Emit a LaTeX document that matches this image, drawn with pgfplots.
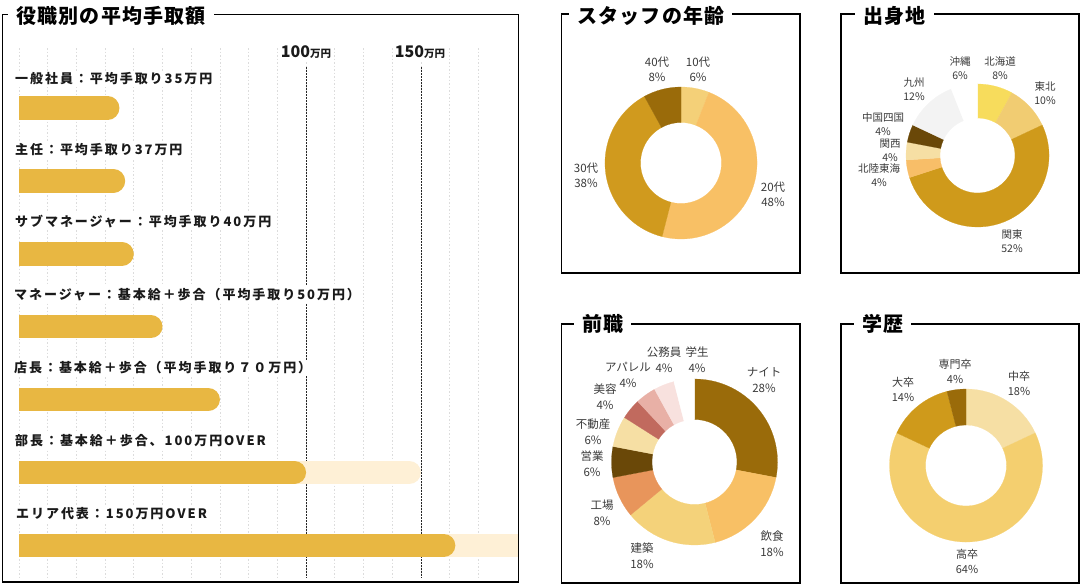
\documentclass[border=0pt]{standalone}
\usepackage{fontspec}
\setmainfont{Noto Sans CJK JP}
\newfontfamily\tfont{Noto Sans CJK JP}[LetterSpace=6]
\newfontfamily\bfont{Noto Sans CJK JP}[LetterSpace=15]
\newfontfamily\lfont{Noto Sans CJK JP}
\usepackage{pgfplots}
\usepackage{pgfplotstable}
\pgfplotsset{compat=1.18}

\definecolor{gold}{HTML}{E8B742}
\definecolor{cream}{HTML}{FEF0D6}
\definecolor{gridgray}{HTML}{DCDCDC}
\definecolor{labgray}{HTML}{3A3A3A}
\definecolor{txt}{HTML}{1A1A1A}
% age
\definecolor{ageA}{HTML}{F4D078}
\definecolor{ageB}{HTML}{F8C065}
\definecolor{ageC}{HTML}{D09A1E}
\definecolor{ageD}{HTML}{9A6B0A}
% origin
\definecolor{orA}{HTML}{F7DC5C}
\definecolor{orB}{HTML}{F1CC72}
\definecolor{orC}{HTML}{CF9A1B}
\definecolor{orD}{HTML}{F8BE68}
\definecolor{orE}{HTML}{F6DFA4}
\definecolor{orF}{HTML}{6A4808}
\definecolor{orG}{HTML}{F3F3F3}
\definecolor{orH}{HTML}{FFFFFF}
% job
\definecolor{jA}{HTML}{9A6B0A}
\definecolor{jB}{HTML}{F8C065}
\definecolor{jC}{HTML}{F4D27A}
\definecolor{jD}{HTML}{E8955B}
\definecolor{jE}{HTML}{6A4808}
\definecolor{jF}{HTML}{F6DFA4}
\definecolor{jG}{HTML}{C16A5E}
\definecolor{jH}{HTML}{E8B0A6}
\definecolor{jI}{HTML}{F8E1DE}
\definecolor{jJ}{HTML}{FFFFFF}
% education
\definecolor{eA}{HTML}{F6DFA4}
\definecolor{eB}{HTML}{F4CF6F}
\definecolor{eC}{HTML}{CF9A1B}
\definecolor{eD}{HTML}{9A6B0A}

\pgfplotstableread[col sep=comma]{
label,pct,col,lx,ly
10代,6,ageA,698,69.5
20代,48,ageB,773,194
30代,38,ageC,586,175.5
40代,8,ageD,657,69.5
}\tblAge

\pgfplotstableread[col sep=comma]{
label,pct,col,lx,ly
北海道,8,orA,1000,68.5
東北,10,orB,1045,93.5
関東,52,orC,1012,241
北陸東海,4,orD,879,175.5
関西,4,orE,890,150.5
中国四国,4,orF,883,124.5
九州,12,orG,914,89
沖縄,6,orH,960,68.5
}\tblOrigin

\pgfplotstableread[col sep=comma]{
label,pct,col,lx,ly
ナイト,28,jA,764,380.5
飲食,18,jB,772,543.5
建築,18,jC,642,556
工場,8,jD,602,512.5
営業,6,jE,592,463.5
不動産,6,jF,593,431.5
美容,4,jG,605,397
アパレル,4,jH,628,374.5
公務員,4,jI,664,360
学生,4,jJ,697,360
}\tblJob

\pgfplotstableread[col sep=comma]{
label,pct,col,lx,ly
中卒,18,eA,1019,383
高卒,64,eB,967,561
大卒,14,eC,903,389.5
専門卒,4,eD,955,371
}\tblEdu

% donut slices, drawn in axis coordinates from the table
\newcommand\donut[3]{%
 \pgfplotsextra{%
  \pgfplotstablegetrowsof{#1}%
  \pgfmathtruncatemacro\nr{\pgfplotsretval-1}%
  \gdef\cum{0}%
  \foreach \i in {0,...,\nr}{%
    \pgfplotstablegetelem{\i}{pct}\of{#1}\pgfmathsetmacro\p{\pgfplotsretval}%
    \pgfplotstablegetelem{\i}{col}\of{#1}\edef\c{\pgfplotsretval}%
    \pgfmathsetmacro\a{90-3.6*\cum}%
    \pgfmathsetmacro\b{90-3.6*(\cum+\p)}%
    \pgfmathsetmacro\newcum{\cum+\p}\xdef\cum{\newcum}%
    \fill[fill=\c, draw=\c, line width=0.2pt] ([shift={(\a:#2pt)}]axis cs:0,0) arc[start angle=\a, end angle=\b, radius=#2pt]
      -- ([shift={(\b:#3pt)}]axis cs:0,0) arc[start angle=\b, end angle=\a, radius=#3pt] -- cycle;
  }%
 }%
}
\newcommand\donutlabels[3]{%
  \pgfplotstablegetrowsof{#1}%
  \pgfmathtruncatemacro\nr{\pgfplotsretval-1}%
  \foreach \i in {0,...,\nr}{%
    \pgfplotstablegetelem{\i}{label}\of{#1}\let\lab\pgfplotsretval
    \pgfplotstablegetelem{\i}{pct}\of{#1}\let\pc\pgfplotsretval
    \pgfplotstablegetelem{\i}{lx}\of{#1}\let\lx\pgfplotsretval
    \pgfplotstablegetelem{\i}{ly}\of{#1}\let\ly\pgfplotsretval
    \node[align=center, text=labgray, inner sep=0pt, font=\lfont\fontsize{#2}{#3}\selectfont] at (\lx,{584-\ly}) {\lab\\\pc\%};
  }%
}

\begin{document}
\begin{tikzpicture}[x=1pt,y=1pt]

% ---------------- bar chart ----------------
\begin{axis}[at={(19pt,6pt)}, anchor=south west, scale only axis,
  width=499.5pt, height=530pt,
  xmin=0, xmax=174, ymin=-0.823, ymax=6.447, y dir=reverse,
  axis line style={draw=none}, tick style={draw=none},
  xtick={0,10,...,160}, xticklabel={\relax}, ytick=\empty,
  xmajorgrids, major grid style={gridgray, dash pattern=on 1.5pt off 2pt, line width=0.7pt}]
\draw[black!85, dash pattern=on 1.5pt off 1.5pt, line width=0.8pt] (axis cs:100,-0.56) -- (axis cs:100,6.447);
\draw[black!85, dash pattern=on 1.5pt off 1.5pt, line width=0.8pt] (axis cs:140,-0.56) -- (axis cs:140,6.447);
% light extensions
\addplot[cream, line width=23.5pt, line cap=round, xshift=-11.75pt] coordinates {(0,5) (140,5)};
\addplot[cream, line width=23.5pt] coordinates {(0,6) (180,6)};
% average take-home pay (10,000 yen)
\addplot[gold, line width=23.5pt, line cap=round, xshift=-11.75pt] coordinates {(0,0) (35,0)};
\addplot[gold, line width=23.5pt, line cap=round, xshift=-11.75pt] coordinates {(0,1) (37,1)};
\addplot[gold, line width=23.5pt, line cap=round, xshift=-11.75pt] coordinates {(0,2) (40,2)};
\addplot[gold, line width=23.5pt, line cap=round, xshift=-11.75pt] coordinates {(0,3) (50,3)};
\addplot[gold, line width=23.5pt, line cap=round, xshift=-11.75pt] coordinates {(0,4) (70,4)};
\addplot[gold, line width=23.5pt, line cap=round, xshift=-11.75pt] coordinates {(0,5) (100,5)};
\addplot[gold, line width=23.5pt, line cap=round, xshift=-11.75pt] coordinates {(0,6) (152,6)};
\end{axis}

% tick labels
\node[fill=white, inner sep=2pt, text=txt] at (306,{584-52}) {\bfseries\fontsize{16}{16}\selectfont 100\fontsize{10.5}{10.5}\selectfont 万円};
\node[fill=white, inner sep=2pt, text=txt] at (420,{584-52}) {\bfseries\fontsize{16}{16}\selectfont 150\fontsize{10.5}{10.5}\selectfont 万円};

% bar labels
\tikzset{blab/.style={anchor=west, fill=white, inner sep=2pt, text=txt, font=\bfont\bfseries\fontsize{13}{15}\selectfont}}
\node[blab] at (13,{584-79}) {一般社員：平均手取り35万円};
\node[blab] at (13,{584-149.5}) {主任：平均手取り37万円};
\node[blab] at (13,{584-221.5}) {サブマネージャー：平均手取り40万円};
\node[blab] at (12,{584-294.5}) {マネージャー：基本給＋歩合（平均手取り50万円）};
\node[blab] at (12,{584-368}) {店長：基本給＋歩合（平均手取り７０万円）};
\node[blab] at (13,{584-441}) {部長：基本給＋歩合、100万円OVER};
\node[blab] at (14,{584-513.5}) {エリア代表：150万円OVER};

% ---------------- donuts ----------------
\begin{axis}[at={(681pt,421pt)}, anchor=center, scale only axis, width=152pt, height=152pt,
  xmin=-76, xmax=76, ymin=-76, ymax=76, hide axis, clip=false]
\donut{\tblAge}{76}{40.5}
\end{axis}
\begin{axis}[at={(977.5pt,428.5pt)}, anchor=center, scale only axis, width=143pt, height=143pt,
  xmin=-71.5, xmax=71.5, ymin=-71.5, ymax=71.5, hide axis, clip=false]
\donut{\tblOrigin}{71.5}{37.5}
\end{axis}
\begin{axis}[at={(694.5pt,122pt)}, anchor=center, scale only axis, width=166pt, height=166pt,
  xmin=-83, xmax=83, ymin=-83, ymax=83, hide axis, clip=false]
\donut{\tblJob}{83}{42.5}
\end{axis}
\begin{axis}[at={(966pt,118.5pt)}, anchor=center, scale only axis, width=153pt, height=153pt,
  xmin=-76.5, xmax=76.5, ymin=-76.5, ymax=76.5, hide axis, clip=false]
\donut{\tblEdu}{76.5}{40.5}
\end{axis}

\donutlabels{\tblAge}{11.5}{15}
\donutlabels{\tblOrigin}{10.5}{14}
\donutlabels{\tblJob}{11.5}{16}
\donutlabels{\tblEdu}{11}{15}

% ---------------- frames and titles ----------------
\draw[line width=1.2pt] (2.5,569.5) rectangle (518.5,2);
\draw[line width=1.2pt] (561.5,570) rectangle (800,311);
\draw[line width=1.2pt] (841,570) rectangle (1079,311);
\draw[line width=1.2pt] (561.5,260) rectangle (800,1);
\draw[line width=1.2pt] (841,260) rectangle (1079,1);
\tikzset{ttl/.style={anchor=west, fill=white, inner xsep=8pt, inner ysep=2pt, text=black, font=\tfont\bfseries\fontsize{20}{24}\selectfont}}
\node[ttl] at (8,568) {役職別の平均手取額};
\node[ttl] at (569,568) {スタッフの年齢};
\node[ttl] at (855,568) {出身地};
\node[ttl] at (574,260) {前職};
\node[ttl] at (854,260) {学歴};

\pgfresetboundingbox
\path[use as bounding box] (0,0) rectangle (1083,584);
\end{tikzpicture}
\end{document}
